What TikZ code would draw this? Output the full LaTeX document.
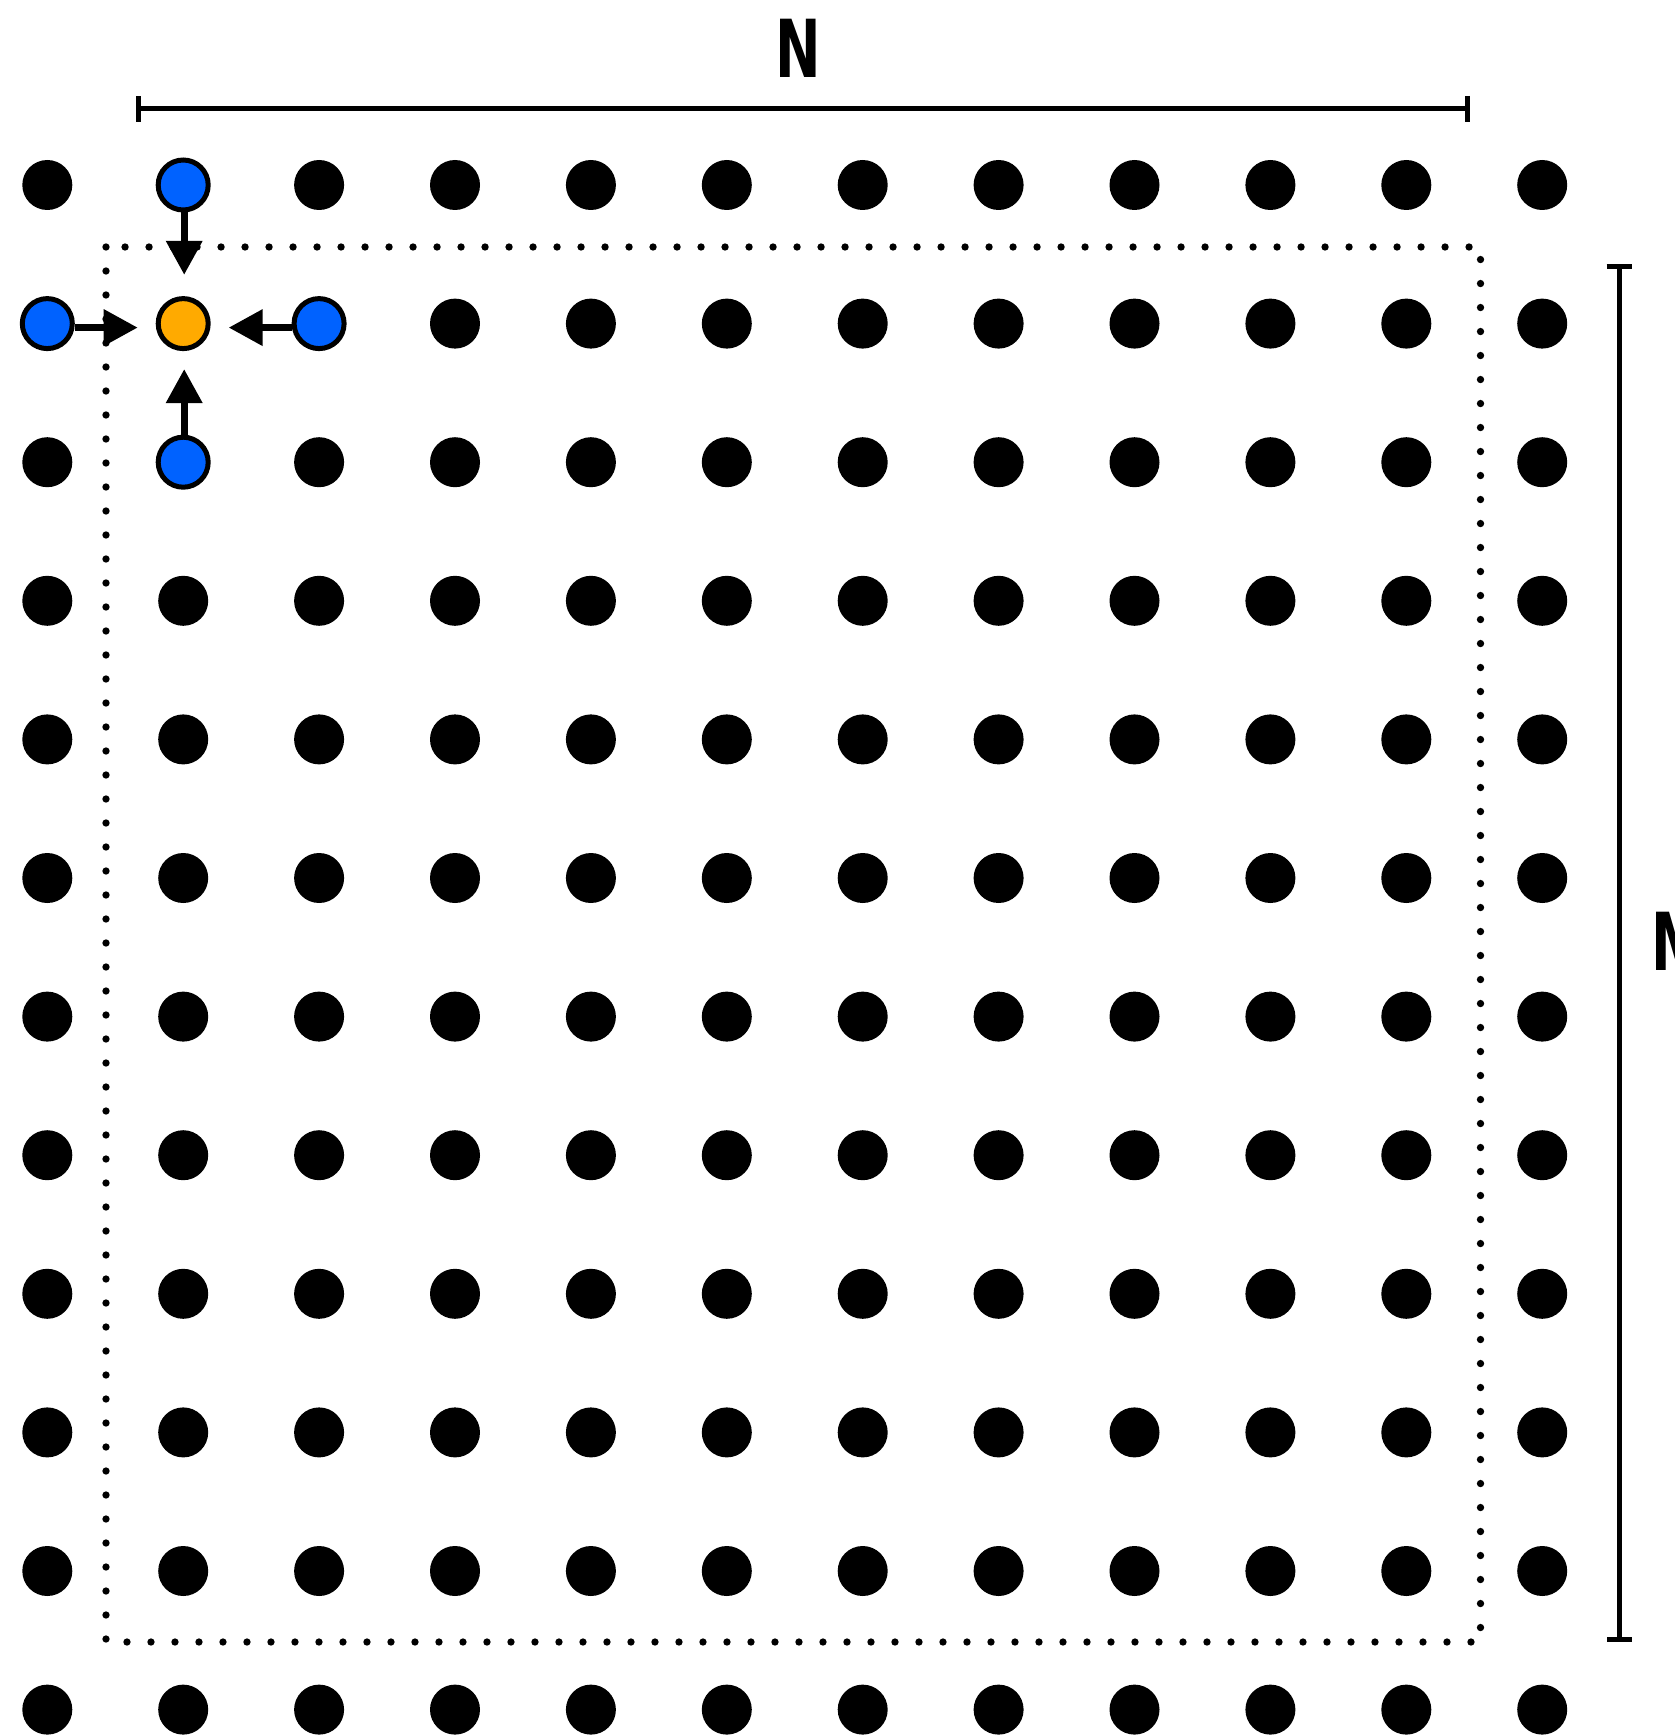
\documentclass[tikz,border=0pt]{standalone}
\usepackage{fontspec}
\usetikzlibrary{arrows.meta,calc}
\newfontfamily\lblfont{DejaVu Sans}
\definecolor{dotblue}{RGB}{0,98,255}
\definecolor{dotorange}{RGB}{255,170,0}
\begin{document}
\begin{tikzpicture}[x=0.3pt,y=-0.3pt,
  gdot/.style={circle,fill=black,inner sep=0pt,minimum size=15pt},
  bdot/.style={circle,fill=dotblue,draw=black,line width=1.5pt,inner sep=0pt,minimum size=15pt},
  odot/.style={circle,fill=dotorange,draw=black,line width=1.5pt,inner sep=0pt,minimum size=15pt},
  arr/.style={line width=2.1pt,-{Triangle[width=10.5pt,length=10.2pt]},shorten >=5.4pt},
  dim/.style={line width=1.5pt},
  lbl/.style={inner sep=0pt,font=\lblfont\bfseries\fontsize{24}{24}\selectfont}]
\useasboundingbox (0,0) rectangle (1674,1735);
% grid of dots
\foreach \i in {0,...,11}{
  \foreach \j in {0,...,11}{
    \pgfmathsetmacro{\px}{47.3+135.9*\i}
    \pgfmathsetmacro{\py}{185+138.6*\j}
    \pgfmathtruncatemacro{\isspecial}{(\i==1 && \j==0) || (\i==0 && \j==1) || (\i==1 && \j==1) || (\i==2 && \j==1) || (\i==1 && \j==2)}
    \ifnum\isspecial=0
      \node[gdot] (d-\i-\j) at (\px,\py) {};
    \fi
  }
}
% special dots
\node[bdot] (bt) at (183.2,185) {};
\node[bdot] (bl) at (47.3,323.6) {};
\node[odot] (o) at (183.2,323.6) {};
\node[bdot] (br) at (319.1,323.6) {};
\node[bdot] (bb) at (183.2,462.2) {};
% arrows
\draw[arr,shorten >=6.4pt] ($(bt.south)+(1,0)$) -- ($(o.north)+(1,0)$);
\draw[arr] ($(bl.east)+(0,4)$) -- ($(o.west)+(0,4)$);
\draw[arr] ($(br.west)+(0,4)$) -- ($(o.east)+(0,4)$);
\draw[arr] ($(bb.north)+(1,0)$) -- ($(o.south)+(1,0)$);
% dotted boundary
\draw[line width=2.2pt,line cap=round,dash pattern=on 0pt off 7.2pt]
  (106,247) rectangle (1480.5,1642);
% N dimension
\coordinate (nl) at (136.3,109);
\coordinate (nr) at (1470.3,109);
\draw[dim,{Bar[width=7.8pt]}-{Bar[width=7.8pt]}] (nl) -- (nr);
\node[lbl] (N) at (798,48) {\scalebox{0.68}[1]{N}};
% M dimension
\coordinate (mt) at (1619,264);
\coordinate (mb) at (1619,1642);
\draw[dim,{Bar[width=7.5pt]}-{Bar[width=7.5pt]}] (mt) -- (mb);
\node[lbl,anchor=west] (M) at (1651,941) {\scalebox{0.68}[1]{M}};
\end{tikzpicture}
\end{document}
